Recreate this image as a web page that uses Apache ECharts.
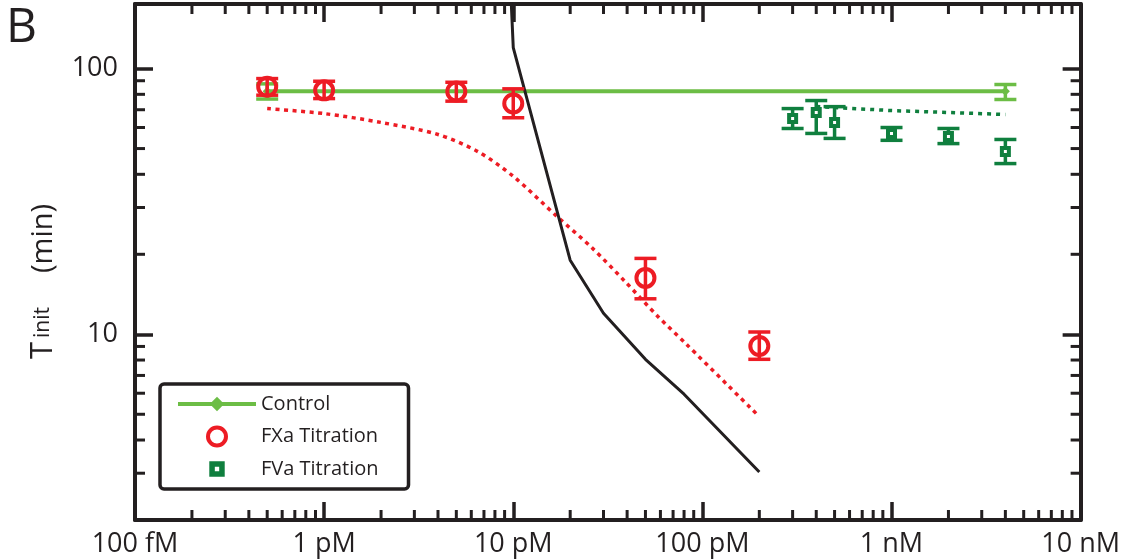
<!DOCTYPE html>
<html>
<head>
<meta charset="utf-8">
<script src="https://cdn.jsdelivr.net/npm/echarts/dist/echarts.min.js"></script>
<style>
  html, body { margin: 0; padding: 0; background: #fff; }
  #chart { width: 1123px; height: 560px; }
</style>
</head>
<body>
<div id="chart"></div>
<script>
// axis ranges (pM on x, minutes on y)
const xMin = 0.1, xMax = 10000;
const yMin = 2, yMax = 175;
const xTickValues = [0.1, 1, 10, 100, 1000, 10000];
const xTickLabels = ['100 fM', '1 pM', '10 pM', '100 pM', '1 nM', '10 nM'];
const yTickValues = [10, 100];
const yTickLabels = ['10', '100'];

// Control
const controlConc = [0.5, 4000];
const controlTime = [82.2, 82.2];
const controlLow = [76.8, 76.5];
const controlHigh = [87.6, 87.1];

// FXa titration
const fxaConc = [0.5, 1, 5, 10, 50, 200];
const fxaTime = [85.4, 82.8, 82.0, 73.9, 16.3, 9.04];
const fxaLow = [79.4, 77.1, 75.4, 65.3, 13.6, 8.05];
const fxaHigh = [91.7, 89.6, 88.8, 83.9, 19.3, 10.2];

// FVa titration
const fvaConc = [300, 400, 500, 1000, 2000, 4000];
const fvaTime = [64.9, 68.3, 62.7, 57.0, 55.5, 48.7];
const fvaLow = [59.5, 57.0, 54.6, 53.7, 52.2, 43.9];
const fvaHigh = [70.7, 75.8, 71.9, 60.0, 59.5, 54.1];

// dotted fits
const fxaFitConc = [0.5, 1, 2, 4, 6.5, 10, 17, 26, 39, 58, 82, 200];
const fxaFitTime = [70.7, 67.7, 62.7, 56.5, 48.7, 39.3, 27.8, 21.2, 15.8, 11.7, 9.2, 4.9];
const fvaFitConc = [400, 1000, 4000];
const fvaFitTime = [72.0, 69.5, 67.2];

// black curve
const modelConc = [9.55, 10, 20, 30, 50, 80, 200];
const modelTime = [250, 120, 19.0, 12.0, 8.05, 5.95, 3.03];

const red = '#ed1c24';
const darkGreen = '#0f7f3e';
const lightGreen = '#6cbd45';
const ink = '#231f20';
const font = '"Open Sans", "Noto Sans", sans-serif';

// minor ticks (2..9 of every decade)
const xMinorTicks = [];
for (let d = xMin; d < xMax; d *= 10) {
  for (let k = 2; k <= 9; k++) xMinorTicks.push(+(k * d).toPrecision(3));
}
const yMinorTicks = [3, 4, 5, 6, 7, 8, 9, 20, 30, 40, 50, 60, 70, 80, 90];

const zip = (a, b) => a.map((v, i) => [v, b[i]]);
const zip3 = (a, b, c) => a.map((v, i) => [v, b[i], c[i]]);

function pickLabel(values, labels) {
  return function (v) {
    const i = values.findIndex(t => Math.abs(Math.log10(t) - Math.log10(v)) < 1e-6);
    return i >= 0 ? labels[i] : '';
  };
}

function errorBars(color) {
  return function (params, api) {
    const x = api.value(0);
    const lo = api.coord([x, api.value(1)]);
    const hi = api.coord([x, api.value(2)]);
    const w = 11;
    const style = { stroke: color, lineWidth: 3.5 };
    return {
      type: 'group',
      children: [
        { type: 'line', shape: { x1: lo[0], y1: lo[1], x2: hi[0], y2: hi[1] }, style: style },
        { type: 'line', shape: { x1: lo[0] - w, y1: lo[1], x2: lo[0] + w, y2: lo[1] }, style: style },
        { type: 'line', shape: { x1: hi[0] - w, y1: hi[1], x2: hi[0] + w, y2: hi[1] }, style: style }
      ]
    };
  };
}

function minorTicks(dir) {
  return function (params, api) {
    const len = 10;
    let segs;
    if (dir === 'x') {
      const v = api.value(0);
      const a = api.coord([v, yMin]);
      const b = api.coord([v, yMax]);
      segs = [[a[0], a[1], a[0], a[1] - len], [b[0], b[1], b[0], b[1] + len]];
    } else {
      const v = api.value(1);
      const a = api.coord([xMin, v]);
      const b = api.coord([xMax, v]);
      segs = [[a[0], a[1], a[0] + len, a[1]], [b[0], b[1], b[0] - len, b[1]]];
    }
    return {
      type: 'group',
      children: segs.map(s => ({
        type: 'line',
        shape: { x1: s[0], y1: s[1], x2: s[2], y2: s[3] },
        style: { stroke: ink, lineWidth: 3 }
      }))
    };
  };
}

const chart = echarts.init(document.getElementById('chart'), null, { renderer: 'canvas' });

const baseX = {
  type: 'log', logBase: 10, min: xMin, max: xMax,
  axisLine: { lineStyle: { color: ink, width: 4 } },
  axisTick: { inside: true, length: 18, lineStyle: { color: ink, width: 3.5 } },
  splitLine: { show: false }
};
const baseY = {
  type: 'log', logBase: 10, min: yMin, max: yMax,
  axisLine: { lineStyle: { color: ink, width: 4 } },
  axisTick: { inside: true, length: 18, lineStyle: { color: ink, width: 3.5 } },
  splitLine: { show: false }
};

const option = {
  animation: false,
  backgroundColor: '#fff',
  textStyle: { fontFamily: font, color: ink },
  grid: { left: 135, right: 38, top: 4, bottom: 40 },
  graphic: [{
    type: 'text', left: 6, top: 4,
    style: { text: 'B', font: '48px ' + font, fill: ink }
  }],
  legend: {
    orient: 'vertical',
    left: 160, top: 384,
    padding: [10, 30, 10, 16],
    itemWidth: 78, itemHeight: 18, itemGap: 11.5,
    borderColor: ink, borderWidth: 3.5, borderRadius: 4,
    backgroundColor: '#fff',
    textStyle: { fontFamily: font, fontSize: 20, lineHeight: 20, color: ink },
    data: [
      { name: 'Control', lineStyle: { width: 4, color: lightGreen } },
      {
        name: 'FXa Titration', icon: 'circle',
        itemStyle: { color: 'rgba(255,255,255,0)', borderColor: red, borderWidth: 4, opacity: 1 }
      },
      {
        name: 'FVa Titration',
        icon: 'path://M-1,-1M13,13M0,0H12V12H0ZM4.3,4.3V7.7H7.7V4.3Z',
        itemStyle: { color: darkGreen, borderWidth: 0, opacity: 1 }
      }
    ]
  },
  xAxis: [
    Object.assign({}, baseX, {
      position: 'bottom',
      axisLabel: { formatter: pickLabel(xTickValues, xTickLabels), fontFamily: font, fontSize: 27, color: ink, margin: 11 }
    }),
    Object.assign({}, baseX, { position: 'top', axisLabel: { show: false } })
  ],
  yAxis: [
    Object.assign({}, baseY, {
      position: 'left',
      axisLabel: { formatter: pickLabel(yTickValues, yTickLabels), fontFamily: font, fontSize: 27, color: ink, margin: 17, padding: [0, 0, 8, 0] },
      name: '{t|T}{s|init}{m|(min)}',
      nameLocation: 'middle',
      nameRotate: 90,
      nameGap: 76,
      nameTextStyle: {
        padding: [0, 39, 0, 0],
        rich: {
          t: { fontFamily: font, fontSize: 31, color: ink },
          s: { fontFamily: font, fontSize: 21, color: ink, padding: [0, 0, 0, 4] },
          m: { fontFamily: font, fontSize: 29, color: ink, padding: [0, 0, 0, 34] }
        }
      }
    }),
    Object.assign({}, baseY, { position: 'right', axisLabel: { show: false } })
  ],
  series: [
    {
      name: 'xMinor', type: 'custom', silent: true, z: 1,
      renderItem: minorTicks('x'),
      data: xMinorTicks.map(v => [v, yMin])
    },
    {
      name: 'yMinor', type: 'custom', silent: true, z: 1,
      renderItem: minorTicks('y'),
      data: yMinorTicks.map(v => [xMin, v])
    },
    {
      name: 'Control', type: 'line', z: 3,
      data: zip(controlConc, controlTime),
      symbol: 'diamond', symbolSize: 9,
      lineStyle: { color: lightGreen, width: 4 },
      itemStyle: { color: lightGreen }
    },
    {
      name: 'Control err', type: 'custom', z: 3,
      renderItem: errorBars(lightGreen),
      encode: { x: 0, y: [1, 2] },
      data: zip3(controlConc, controlLow, controlHigh)
    },
    {
      name: 'FXa fit', type: 'line', z: 2, showSymbol: false,
      data: zip(fxaFitConc, fxaFitTime),
      smooth: 0.3,
      lineStyle: { color: red, width: 3.5, type: [4, 4.5] }
    },
    {
      name: 'FVa fit', type: 'line', z: 2, showSymbol: false,
      data: zip(fvaFitConc, fvaFitTime),
      lineStyle: { color: darkGreen, width: 3.5, type: [4, 5] }
    },
    {
      name: 'Model', type: 'line', z: 4, showSymbol: false,
      data: zip(modelConc, modelTime),
      lineStyle: { color: ink, width: 3 }
    },
    {
      name: 'FXa err', type: 'custom', z: 5,
      renderItem: errorBars(red),
      encode: { x: 0, y: [1, 2] },
      data: zip3(fxaConc, fxaLow, fxaHigh)
    },
    {
      name: 'FXa Titration', type: 'scatter', z: 6,
      data: zip(fxaConc, fxaTime),
      symbol: 'circle', symbolSize: 18,
      itemStyle: { color: 'rgba(255,255,255,0)', borderColor: red, borderWidth: 4, opacity: 1 }
    },
    {
      name: 'FVa err', type: 'custom', z: 5,
      renderItem: errorBars(darkGreen),
      encode: { x: 0, y: [1, 2] },
      data: zip3(fvaConc, fvaLow, fvaHigh)
    },
    {
      name: 'FVa Titration', type: 'scatter', z: 6,
      data: zip(fvaConc, fvaTime),
      symbol: 'rect', symbolSize: 7,
      itemStyle: { color: '#fff', borderColor: darkGreen, borderWidth: 4, opacity: 1 }
    }
  ]
};

chart.setOption(option);
</script>
</body>
</html>
